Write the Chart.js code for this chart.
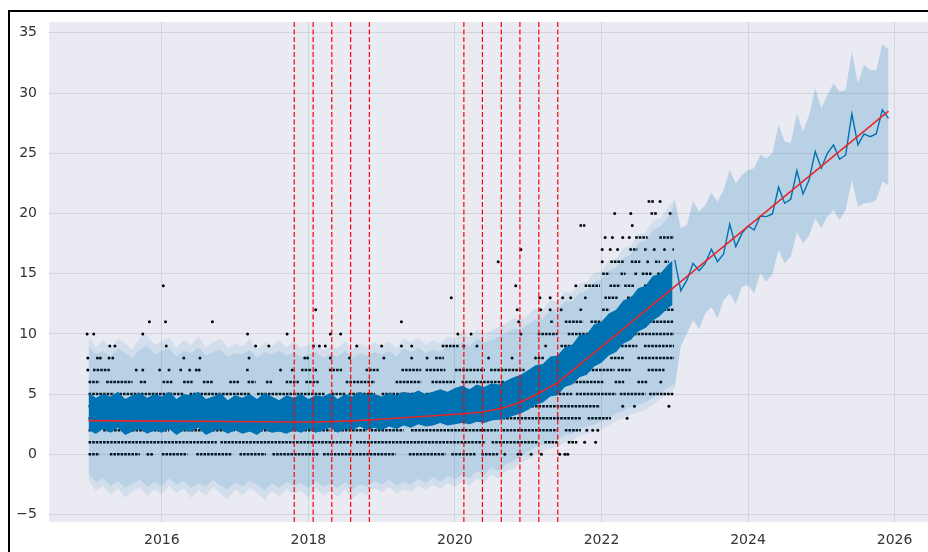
<!DOCTYPE html>
<html>
<head>
<meta charset="utf-8">
<script src="https://cdn.jsdelivr.net/npm/chart.js@4.4.0/dist/chart.umd.min.js"></script>
<style>
html, body { margin: 0; padding: 0; background: #fff; overflow: hidden; width: 928px; height: 552px; }
#wrap { position: absolute; left: 0; top: 0; width: 933px; height: 552px; }
#frame { position: absolute; left: 8px; top: 10px; width: 1000px; height: 600px; border-left: 2px solid #000; border-top: 2px solid #000; pointer-events: none; }
</style>
</head>
<body>
<div id="wrap"><canvas id="myChart" width="933" height="552"></canvas></div>
<div id="frame"></div>
<script>
// ticks
const xTicks = [2016, 2018, 2020, 2022, 2024, 2026]
const yTicks = [-5, 0, 5, 10, 15, 20, 25, 30, 35]

// history, sampled every ~0.1 year
const histX = [2015.0,2015.1,2015.2,2015.3,2015.4,2015.5,2015.6,2015.7,2015.8,2015.9,
  2016.0,2016.1,2016.2,2016.3,2016.4,2016.5,2016.6,2016.7,2016.8,2016.9,
  2017.0,2017.1,2017.2,2017.3,2017.4,2017.5,2017.6,2017.7,2017.8,2017.9,
  2018.0,2018.1,2018.2,2018.3,2018.4,2018.5,2018.6,2018.7,2018.8,2018.9,
  2019.0,2019.1,2019.2,2019.3,2019.4,2019.5,2019.6,2019.7,2019.8,2019.9,
  2020.0,2020.1,2020.2,2020.3,2020.4,2020.5,2020.6,2020.7,2020.8,2020.9,
  2021.0,2021.1,2021.2,2021.3,2021.4,2021.5,2021.6,2021.7,2021.8,2021.9,
  2022.0,2022.1,2022.2,2022.3,2022.4,2022.5,2022.6,2022.7,2022.8,2022.9,
  2022.97]
// uncertainty band (history), outer spikes
const histUp = [9.8,8.9,9.5,8.8,9.6,9.2,8.7,9.7,9.9,9.1,
  9.4,9.7,8.8,9.5,9.1,9.8,8.9,9.3,9.6,8.8,
  9.2,9.0,9.6,8.7,9.3,9.0,9.5,8.9,9.4,8.8,
  9.1,9.3,8.6,9.0,8.8,9.4,8.7,9.2,8.9,9.3,
  9.0,9.4,8.8,9.6,9.3,9.7,9.1,9.5,9.2,9.8,
  9.6,10.1,9.7,10.4,10.0,10.3,10.6,10.9,11.3,11.2,
  11.6,12.1,12.0,12.8,12.7,13.5,13.4,14.2,14.3,15.1,
  15.2,16.1,16.2,17.1,17.3,18.3,18.4,19.4,19.6,20.4,
  21.0]
const histLo = [-2.2,-3.0,-2.6,-3.4,-2.8,-3.6,-3.1,-2.7,-3.5,-2.9,
  -3.3,-2.6,-3.2,-2.8,-3.6,-3.0,-3.4,-2.7,-3.3,-3.7,
  -2.9,-3.4,-2.8,-3.2,-3.8,-3.0,-3.5,-2.9,-3.3,-3.0,
  -3.6,-2.8,-3.4,-3.0,-3.5,-2.9,-3.7,-3.1,-3.4,-2.8,
  -3.2,-2.7,-3.3,-2.9,-3.1,-2.6,-3.0,-2.5,-2.9,-2.4,
  -2.7,-2.3,-2.6,-2.0,-2.3,-1.7,-2.0,-1.4,-1.2,-0.7,
  -0.4,0.0,0.2,0.5,0.6,1.0,1.1,1.5,1.7,1.9,
  2.1,2.4,2.8,3.0,3.3,3.5,3.7,4.1,4.6,5.0,
  5.3]
// uncertainty band (history), inner edge
const histUpIn = [9.0,8.3,8.6,8.1,8.8,8.4,8.0,8.7,9.0,8.3,
  8.6,8.8,8.1,8.6,8.4,8.9,8.2,8.5,8.7,8.1,
  8.4,8.3,8.7,8.0,8.5,8.3,8.6,8.2,8.5,8.1,
  8.3,8.5,8.0,8.3,8.1,8.6,8.0,8.4,8.2,8.5,
  8.3,8.6,8.1,8.8,8.5,8.9,8.4,8.7,8.5,9.0,
  8.9,9.3,9.0,9.6,9.3,9.5,9.8,10.1,10.4,10.4,
  10.8,11.2,11.3,11.9,12.0,12.7,12.7,13.4,13.6,14.3,
  14.5,15.3,15.5,16.3,16.6,17.5,17.7,18.6,18.9,19.6,
  20.3]
const histLoIn = [-1.6,-2.3,-2.0,-2.6,-2.2,-2.8,-2.4,-2.1,-2.7,-2.3,
  -2.6,-2.0,-2.5,-2.2,-2.8,-2.4,-2.7,-2.1,-2.6,-2.9,
  -2.3,-2.7,-2.2,-2.5,-3.0,-2.4,-2.8,-2.3,-2.6,-2.4,
  -2.8,-2.2,-2.7,-2.4,-2.8,-2.3,-2.9,-2.5,-2.7,-2.2,
  -2.5,-2.1,-2.6,-2.3,-2.5,-2.0,-2.4,-1.9,-2.3,-1.8,
  -2.1,-1.7,-2.0,-1.4,-1.7,-1.1,-1.4,-0.8,-0.6,-0.1,
  0.2,0.6,0.8,1.1,1.2,1.6,1.7,2.1,2.3,2.5,
  2.7,3.0,3.4,3.6,3.9,4.1,4.3,4.7,5.1,5.5,
  5.8]
// daily yhat swings (drawn as a solid band)
const yhatUp = [5.1,4.7,5.0,4.8,5.2,4.6,4.9,5.1,4.7,5.0,
  4.8,5.2,4.6,5.0,4.9,5.2,4.6,4.8,5.1,4.5,
  4.9,4.7,5.0,4.6,5.1,4.8,4.5,4.9,4.7,5.0,
  4.6,4.9,4.8,5.1,4.6,5.0,4.8,5.2,4.9,5.0,
  4.8,5.1,4.9,5.2,5.0,5.3,5.0,5.2,5.4,5.2,
  5.5,5.7,5.4,5.8,5.6,5.9,5.8,6.1,6.4,6.6,
  7.0,7.4,7.5,8.1,8.2,8.9,9.1,9.9,10.0,10.8,
  11.0,11.7,12.0,12.8,13.0,13.8,14.0,14.8,15.0,15.7,
  16.1]
const yhatLo = [2.0,1.7,2.1,1.8,2.2,1.6,1.9,2.1,1.7,2.0,
  1.8,2.1,1.6,2.0,1.9,2.2,1.6,1.9,2.1,1.7,
  2.0,1.7,1.9,1.6,2.1,1.8,1.9,1.7,2.0,1.8,
  2.1,1.8,2.0,2.2,1.8,2.1,2.0,2.3,2.0,2.2,
  2.0,2.3,2.1,2.4,2.2,2.5,2.3,2.4,2.6,2.4,
  2.5,2.6,2.5,2.7,2.6,2.8,2.9,3.0,3.2,3.4,
  3.7,4.1,4.3,4.8,4.9,5.6,5.8,6.4,6.6,7.3,
  7.6,8.2,8.5,9.2,9.5,10.2,10.5,11.1,11.5,12.1,
  12.4]

// monthly forecast 2023 - 2025
const fcX = [2023.0,2023.083,2023.167,2023.25,2023.333,2023.417,2023.5,2023.583,2023.667,2023.75,2023.833,2023.917,
  2024.0,2024.083,2024.167,2024.25,2024.333,2024.417,2024.5,2024.583,2024.667,2024.75,2024.833,2024.917,
  2025.0,2025.083,2025.167,2025.25,2025.333,2025.417,2025.5,2025.583,2025.667,2025.75,2025.833,2025.917]
const fcYhat = [16.14,13.59,14.48,15.86,15.25,15.86,17.03,16.0,16.64,19.13,17.25,18.35,
  18.96,18.63,19.79,19.74,19.96,22.18,20.85,21.18,23.56,21.62,22.78,25.14,
  23.75,25.0,25.69,24.5,24.86,28.27,25.69,26.6,26.38,26.6,28.6,27.9]
const fcUp = [21.12,18.77,19.05,21.04,20.15,20.71,21.73,20.98,21.95,23.61,22.5,23.2,
  23.61,23.75,24.86,24.58,25.0,27.35,25.97,25.83,28.32,26.8,28.18,30.4,
  28.74,29.84,30.81,30.12,30.26,33.44,30.81,32.33,31.92,31.92,34.08,33.64]
const fcLo = [5.6,9.0,10.05,11.15,10.38,11.71,12.26,11.3,12.8,13.37,12.48,13.92,
  14.06,13.37,15.03,14.34,14.98,16.97,15.86,16.41,18.49,17.52,18.13,19.6,
  18.77,19.74,20.29,19.46,20.29,22.78,20.57,20.85,20.9,21.12,22.64,22.37]

// trend + changepoints
const trendX = [2015.0, 2016.0, 2017.0, 2017.807, 2018.065, 2018.319, 2018.577, 2018.832, 2020.122, 2020.375, 2020.633, 2020.887, 2021.145, 2021.403, 2025.917]
const trendY = [2.80, 2.76, 2.72, 2.68, 2.68, 2.72, 2.78, 2.85, 3.37, 3.52, 3.80, 4.30, 5.07, 5.95, 28.5]
const changepoints = [2017.807, 2018.065, 2018.319, 2018.577, 2018.832, 2020.122, 2020.375, 2020.633, 2020.887, 2021.145, 2021.403]

// observed values: dense runs [level, from, to] and single dots [level, x]
const dotRuns = [
  [0,2015.0,2015.15],[0,2015.29,2015.70],[0,2016.0,2016.35],[0,2016.47,2016.96],[0,2017.06,2017.42],[0,2017.51,2018.14],[0,2018.2,2019.19],[0,2019.37,2019.87],[0,2019.95,2020.28],[0,2020.36,2020.59],
  [1,2015.0,2016.75],[1,2016.8,2018.6],[1,2018.65,2020.42],[1,2020.5,2021.13],[1,2021.22,2021.4],[1,2021.54,2021.67],
  [2,2015.0,2015.15],[2,2015.2,2016.1],[2,2016.15,2017.0],[2,2017.05,2017.65],[2,2017.7,2018.3],[2,2018.35,2018.8],[2,2018.85,2019.3],[2,2019.4,2020.6],[2,2020.65,2021.4],[2,2021.5,2021.72],
  [3,2015.0,2021.72],[3,2021.81,2022.13],
  [4,2015.0,2021.98],
  [5,2015.0,2015.35],[5,2015.42,2016.3],[5,2016.38,2017.2],[5,2017.3,2018.23],[5,2018.32,2018.51],[5,2018.55,2018.91],[5,2019.0,2019.5],[5,2019.6,2021.6],[5,2021.65,2022.2],[5,2022.25,2022.6],[5,2022.65,2022.99],
  [6,2015.0,2015.15],[6,2015.24,2015.6],[6,2015.7,2015.79],[6,2016.01,2016.15],[6,2016.29,2016.42],[6,2016.56,2016.7],[6,2016.92,2017.06],[6,2017.17,2017.28],[6,2017.42,2017.51],[6,2017.69,2017.87],[6,2017.96,2018.14],[6,2018.51,2018.91],[6,2019.19,2019.54],[6,2019.68,2020.0],[6,2020.09,2020.68],[6,2020.75,2021.3],[6,2021.4,2022.04],[6,2022.18,2022.31],[6,2022.49,2022.63],
  [7,2015.06,2015.29],[7,2016.08,2016.13],[7,2016.24,2016.28],[7,2017.15,2017.19],[7,2017.9,2018.05],[7,2018.28,2018.46],[7,2018.78,2018.96],[7,2019.27,2019.54],[7,2019.6,2019.87],[7,2020.0,2020.41],[7,2020.48,2020.95],[7,2021.13,2021.5],[7,2021.77,2022.18],[7,2022.22,2022.40],[7,2022.63,2022.86],
  [8,2019.73,2019.85],[8,2021.13,2021.22],[8,2021.31,2021.36],[8,2022.12,2022.31],[8,2022.49,2022.99],
  [9,2019.82,2020.05],[9,2021.22,2021.27],[9,2021.44,2021.62],[9,2022.12,2022.49],[9,2022.58,2022.99],
  [10,2021.13,2021.4],[10,2021.54,2022.04],[10,2022.1,2022.99],
  [11,2021.3,2021.35],[11,2021.5,2021.75],[11,2021.85,2022.0],[11,2022.1,2022.35],[11,2022.5,2022.99],
  [12,2021.70,2021.74],[12,2022.01,2022.11],[12,2022.26,2022.45],[12,2022.63,2022.69],[12,2022.80,2022.99],
  [13,2022.04,2022.22],[13,2022.35,2022.49],
  [14,2021.77,2021.98],[14,2022.11,2022.26],[14,2022.31,2022.45],[14,2022.58,2022.65],
  [15,2022.01,2022.11],[15,2022.26,2022.33],[15,2022.45,2022.49],[15,2022.55,2022.69],[15,2022.76,2022.83],
  [16,2022.12,2022.31],[16,2022.40,2022.53],[16,2022.73,2022.80],[16,2022.86,2022.92],
  [17,2022.38,2022.49],[17,2022.58,2022.63],[17,2022.97,2022.99],
  [18,2022.46,2022.63],[18,2022.79,2022.99],
  [19,2021.70,2021.78],
  [20,2022.67,2022.76],[20,2022.92,2022.97],
  [21,2022.63,2022.72]
]
const dotSingles = [
  [0,2015.81],[0,2015.86],[0,2020.68],[0,2020.86],[0,2020.9],[0,2021.04],[0,2021.18],[0,2021.43],[0,2021.5],[0,2021.54],
  [1,2021.77],[1,2021.92],
  [2,2021.8],[2,2021.88],[2,2021.95],
  [3,2022.35],
  [4,2022.29],[4,2022.45],[4,2022.92],
  [6,2022.81],
  [7,2014.99],[7,2015.65],[7,2015.74],[7,2015.97],[7,2016.38],[7,2016.47],[7,2016.51],[7,2017.62],[7,2017.78],[7,2018.1],
  [8,2014.99],[8,2015.12],[8,2015.16],[8,2015.28],[8,2015.33],[8,2016.3],[8,2016.52],[8,2017.19],[8,2017.95],[8,2017.99],[8,2018.3],[8,2018.56],[8,2019.03],[8,2019.41],[8,2019.62],[8,2020.46],[8,2020.78],[8,2021.1],
  [9,2015.29],[9,2015.36],[9,2016.06],[9,2017.28],[9,2017.46],[9,2018.07],[9,2018.15],[9,2018.23],[9,2018.66],[9,2019.0],[9,2019.27],[9,2019.41],[9,2020.12],[9,2020.3],
  [10,2014.98],[10,2015.07],[10,2015.74],[10,2017.17],[10,2017.71],[10,2018.3],[10,2018.44],[10,2020.04],[10,2020.22],[10,2020.9],
  [11,2015.83],[11,2016.05],[11,2016.69],[11,2019.27],[11,2020.87],
  [12,2018.1],[12,2020.85],[12,2021.17],[12,2021.3],[12,2021.45],
  [13,2019.95],[13,2021.16],[13,2021.30],[13,2021.47],[13,2021.58],[13,2021.78],
  [14,2016.02],[14,2020.83],[14,2021.65],
  [16,2020.59],[16,2022.01],[16,2022.63],
  [17,2020.9],[17,2022.01],[17,2022.12],[17,2022.22],[17,2022.72],[17,2022.86],
  [18,2022.05],[18,2022.15],[18,2022.29],[18,2022.38],
  [19,2022.42],
  [20,2022.18],[20,2022.40],
  [21,2022.80]
]

const yMin = -5.62, yMax = 35.9

const pts = (xs, ys) => xs.map((x, i) => ({x: x, y: ys[i]}))
const bandX = histX.concat(fcX)

let runData = []
dotRuns.forEach(r => {
  runData.push({x: r[1], y: r[0]}, {x: r[2], y: r[0]}, {x: r[2], y: null})
})
let cpData = []
changepoints.forEach(c => {
  cpData.push({x: c, y: yMin}, {x: c, y: yMax}, {x: c, y: null})
})

const bgPlugin = {
  id: 'bg',
  beforeDraw(chart) {
    const a = chart.chartArea, c = chart.ctx
    c.save()
    c.fillStyle = '#eaeaf2'
    c.fillRect(a.left, a.top, a.right - a.left, a.bottom - a.top)
    c.restore()
  }
}

const ctx = document.getElementById('myChart').getContext('2d');
new Chart(ctx, {
  type: 'line',
  data: {
    datasets: [
      // outer (spiky) band, faint
      { data: pts(bandX, histUp.concat(fcUp)), fill: '+1', backgroundColor: 'rgba(0,114,178,0.1)', borderWidth: 0, pointRadius: 0, order: 2 },
      { data: pts(bandX, histLo.concat(fcLo)), fill: false, borderWidth: 0, pointRadius: 0, order: 2 },
      // inner band, adds up to ~0.2
      { data: pts(bandX, histUpIn.concat(fcUp)), fill: '+1', backgroundColor: 'rgba(0,114,178,0.115)', borderWidth: 0, pointRadius: 0, order: 2 },
      { data: pts(bandX, histLoIn.concat(fcLo)), fill: false, borderWidth: 0, pointRadius: 0, order: 2 },
      { data: pts(histX, yhatUp), fill: '+1', backgroundColor: '#0072b2', borderWidth: 0, pointRadius: 0, order: 4 },
      { data: pts(histX, yhatLo), fill: false, borderWidth: 0, pointRadius: 0, order: 4 },
      { data: pts(fcX, fcYhat), borderColor: '#0072b2', borderWidth: 1.4, pointRadius: 0, fill: false, order: 3 },
      { data: pts(trendX, trendY), borderColor: '#e8262b', borderWidth: 1.6, pointRadius: 0, fill: false, order: 1 },
      { data: cpData, borderColor: '#ff0000', borderWidth: 1.2, borderDash: [5, 2.5], pointRadius: 0, fill: false, spanGaps: false, order: 0 },
      { data: runData, borderColor: '#000', borderWidth: 2.5, borderDash: [2.6, 1], pointRadius: 0, fill: false, spanGaps: false, order: 5 },
      { data: dotSingles.map(d => ({x: d[1], y: d[0]})), showLine: false, pointRadius: 1.5, pointBorderWidth: 0, pointBackgroundColor: '#000', order: 5 }
    ]
  },
  options: {
    responsive: false,
    animation: false,
    layout: { padding: { top: 22, left: 0, right: 0, bottom: 0 } },
    plugins: { legend: { display: false }, tooltip: { enabled: false } },
    scales: {
      x: {
        type: 'linear',
        min: 2014.46,
        max: 2026.47,
        afterBuildTicks: s => { s.ticks = xTicks.map(v => ({value: v})) },
        afterFit: s => { s.height = 30 },
        grid: { color: '#d4d4dc', lineWidth: 1, drawTicks: false },
        border: { display: false },
        ticks: {
          padding: 10,
          color: '#333',
          font: { family: 'DejaVu Sans', size: 14 },
          maxRotation: 0,
          callback: v => String(v)
        }
      },
      y: {
        type: 'linear',
        min: yMin,
        max: yMax,
        afterBuildTicks: s => { s.ticks = yTicks.map(v => ({value: v})) },
        afterFit: s => { s.width = 49 },
        grid: { color: '#d4d4dc', lineWidth: 1, drawTicks: false },
        border: { display: false },
        ticks: {
          padding: 12,
          color: '#333',
          font: { family: 'DejaVu Sans', size: 14 },
          callback: v => v < 0 ? '\u2212' + Math.abs(v) : String(v)
        }
      }
    }
  },
  plugins: [bgPlugin]
})
</script>
</body>
</html>
